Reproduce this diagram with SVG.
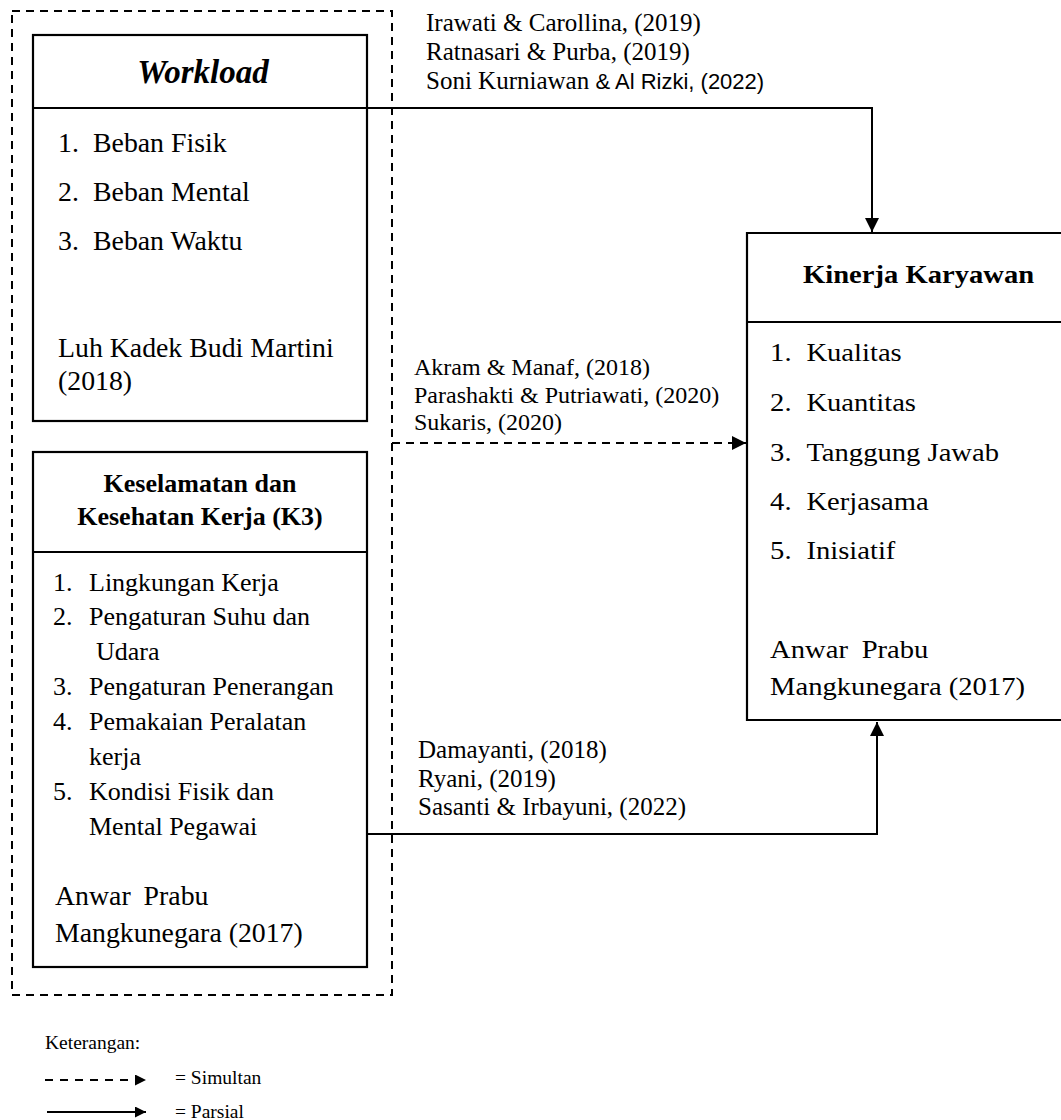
<svg xmlns="http://www.w3.org/2000/svg" width="1061" height="1120" viewBox="0 0 1061 1120" font-family="Liberation Serif, Times New Roman, serif">
<defs>
<style>
.t{font-size:26px}
.tw{font-size:27.8px}
.c{font-size:25px}
.cm{font-size:24px}
.h{font-size:26px;font-weight:bold}
.box{fill:none;stroke:#000;stroke-width:2.2}
.ln{fill:none;stroke:#000;stroke-width:2}
.dash{fill:none;stroke:#000;stroke-width:2;stroke-dasharray:8 6}
.lg{font-size:19.5px}
</style>
<marker id="ah" viewBox="0 0 10 10" refX="10" refY="5" markerWidth="14" markerHeight="11" markerUnits="userSpaceOnUse" orient="auto">
<path d="M0,0 L10,5 L0,10 z" fill="#000"/>
</marker>
<marker id="ahb" viewBox="0 0 10 10" refX="10" refY="5" markerWidth="16" markerHeight="14" markerUnits="userSpaceOnUse" orient="auto">
<path d="M0,0 L10,5 L0,10 z" fill="#000"/>
</marker>
</defs>
<rect width="1061" height="1120" fill="#fff"/>

<g id="group-x">
<rect class="dash" x="12" y="11" width="380" height="984"/>
</g>

<g id="workload">
<rect class="box" x="33" y="35" width="334" height="386"/>
<line class="box" x1="33" y1="108" x2="367" y2="108"/>
<text x="203" y="83" text-anchor="middle" font-size="33" font-weight="bold" font-style="italic">Workload</text>
<text class="tw" x="58" y="152">1.</text><text class="tw" x="93" y="152">Beban Fisik</text>
<text class="tw" x="58" y="201">2.</text><text class="tw" x="93" y="201">Beban Mental</text>
<text class="tw" x="58" y="250">3.</text><text class="tw" x="93" y="250">Beban Waktu</text>
<text class="tw" x="58" y="357">Luh Kadek Budi Martini</text>
<text class="tw" x="58" y="390">(2018)</text>
</g>

<g id="k3">
<rect class="box" x="33" y="452" width="334" height="515"/>
<line class="box" x1="33" y1="552" x2="367" y2="552"/>
<text class="h" x="200" y="492" text-anchor="middle">Keselamatan dan</text>
<text class="h" x="200" y="525" text-anchor="middle">Kesehatan Kerja (K3)</text>
<text class="t" x="53" y="591">1.</text><text class="t" x="89" y="591">Lingkungan Kerja</text>
<text class="t" x="53" y="625">2.</text><text class="t" x="89" y="625">Pengaturan Suhu dan</text>
<text class="t" x="96" y="660">Udara</text>
<text class="t" x="53" y="695">3.</text><text class="t" x="89" y="695">Pengaturan Penerangan</text>
<text class="t" x="53" y="730">4.</text><text class="t" x="89" y="730">Pemakaian Peralatan</text>
<text class="t" x="89" y="765">kerja</text>
<text class="t" x="53" y="800">5.</text><text class="t" x="89" y="800">Kondisi Fisik dan</text>
<text class="t" x="89" y="835">Mental Pegawai</text>
<text class="tw" x="55" y="905" word-spacing="6">Anwar Prabu</text>
<text class="tw" x="55" y="942">Mangkunegara (2017)</text>
</g>

<g id="kinerja">
<path class="box" d="M1063,233 H747 V720 H1063"/>
<line class="box" x1="747" y1="322" x2="1063" y2="322"/>
<g transform="translate(747,0) scale(1.1,1) translate(-747,0)">
<text class="h" x="903" y="283" text-anchor="middle" font-size="26.5">Kinerja Karyawan</text>
<text class="t" x="768" y="361">1.</text><text class="t" x="801" y="361">Kualitas</text>
<text class="t" x="768" y="411">2.</text><text class="t" x="801" y="411">Kuantitas</text>
<text class="t" x="768" y="461">3.</text><text class="t" x="801" y="461">Tanggung Jawab</text>
<text class="t" x="768" y="510">4.</text><text class="t" x="801" y="510">Kerjasama</text>
<text class="t" x="768" y="559">5.</text><text class="t" x="801" y="559">Inisiatif</text>
<text class="t" x="768" y="658" word-spacing="6">Anwar Prabu</text>
<text class="t" x="768" y="695">Mangkunegara (2017)</text>
</g>
</g>

<g id="connectors">
<path class="ln" d="M367,108 H872 V232" marker-end="url(#ahb)"/>
<path class="dash" d="M392,443 H746" marker-end="url(#ahb)"/>
<path class="ln" d="M367,834 H877 V722" marker-end="url(#ahb)"/>
</g>

<g id="labels">
<text class="c" x="426" y="31">Irawati &amp; Carollina, (2019)</text>
<text class="c" x="426" y="60">Ratnasari &amp; Purba, (2019)</text>
<text class="c" x="426" y="89">Soni Kurniawan <tspan font-family="Liberation Sans, Arial, sans-serif" font-size="22">&amp; Al Rizki, (2022)</tspan></text>
<text class="cm" x="414" y="375">Akram &amp; Manaf, (2018)</text>
<text class="cm" x="414" y="403">Parashakti &amp; Putriawati, (2020)</text>
<text class="cm" x="414" y="430">Sukaris, (2020)</text>
<text class="c" x="418" y="758">Damayanti, (2018)</text>
<text class="c" x="418" y="787">Ryani, (2019)</text>
<text class="c" x="418" y="815">Sasanti &amp; Irbayuni, (2022)</text>
</g>

<g id="legend">
<text class="lg" x="45" y="1049">Keterangan:</text>
<line x1="45" y1="1080" x2="146" y2="1080" stroke="#000" stroke-width="2" stroke-dasharray="8 7" marker-end="url(#ah)"/>
<line x1="47" y1="1112" x2="146" y2="1112" stroke="#000" stroke-width="2" marker-end="url(#ah)"/>
<text class="lg" x="175" y="1084">= Simultan</text>
<text class="lg" x="175" y="1118">= Parsial</text>
</g>
</svg>
